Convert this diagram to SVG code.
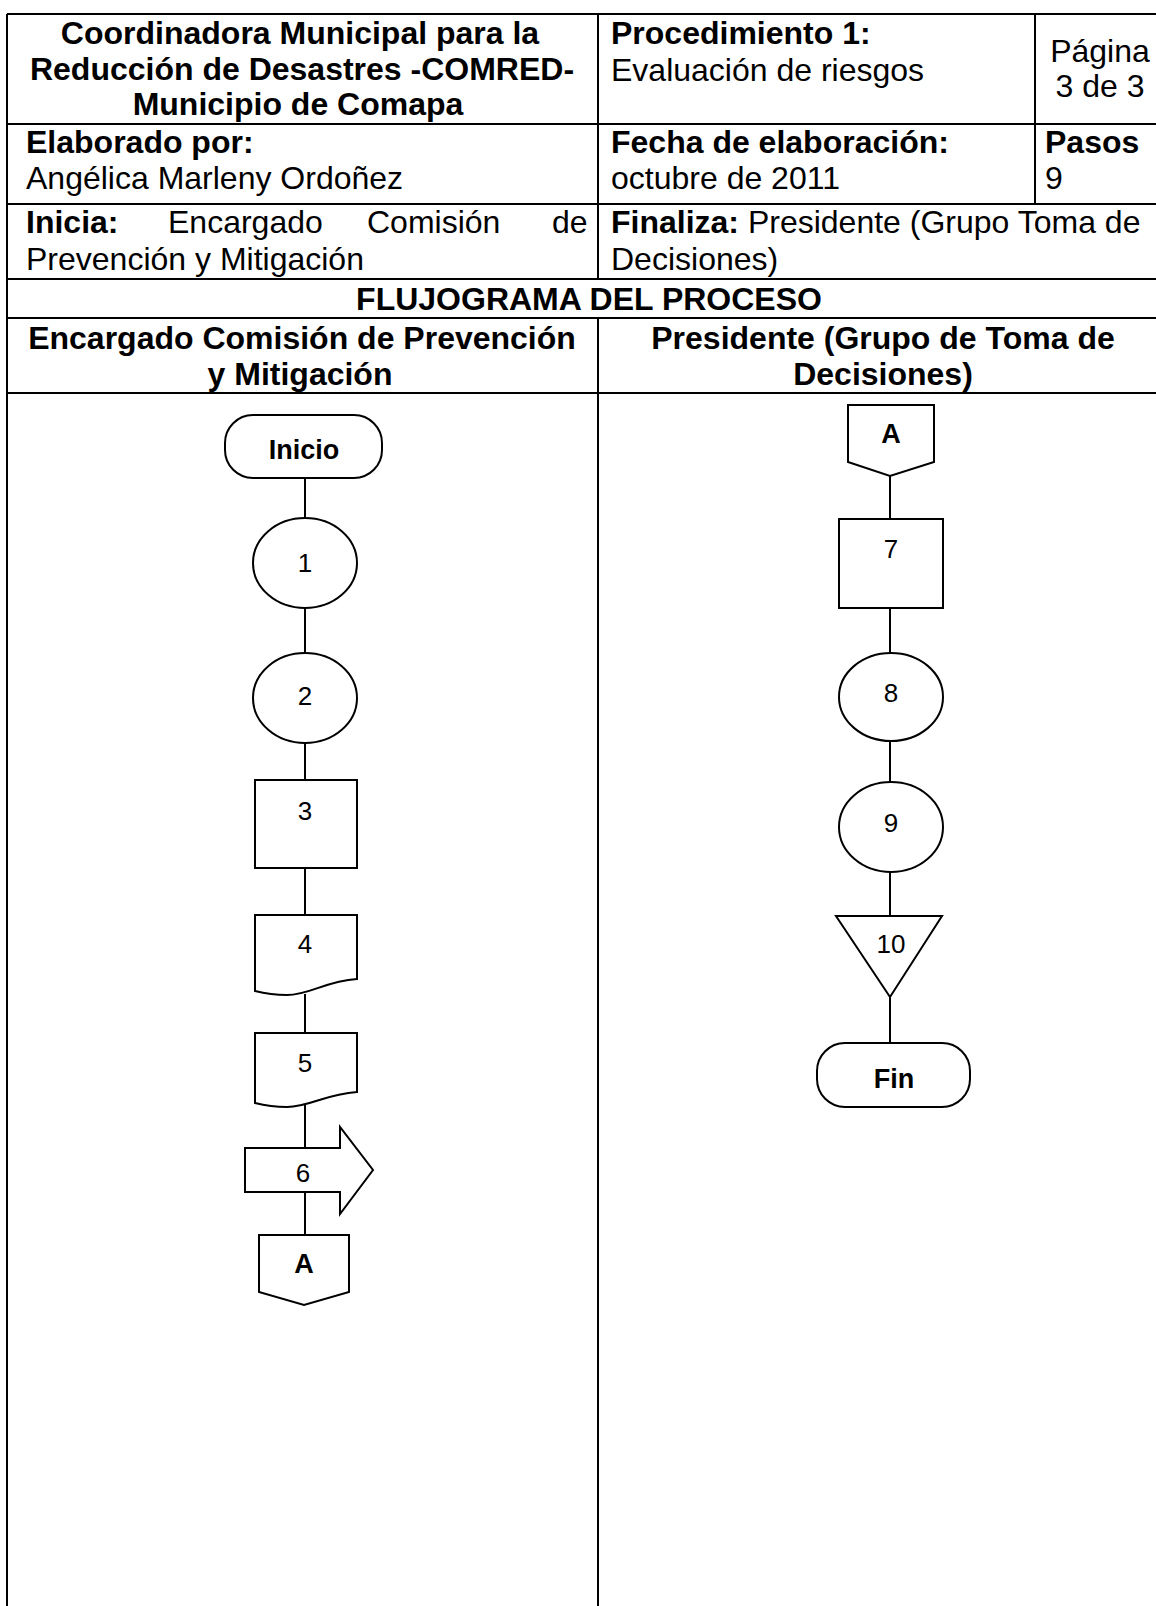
<svg xmlns="http://www.w3.org/2000/svg" width="1156" height="1606" viewBox="0 0 1156 1606">
<style>
.t{font-family:"Liberation Sans",Arial,sans-serif;font-size:32px;fill:#000}
.b{font-weight:bold}
.c{text-anchor:middle}
.grid{stroke:#000;stroke-width:2;fill:none}
.shape{stroke:#000;stroke-width:2;fill:#fff}
.conn{stroke:#000;stroke-width:2;fill:none}
.num{font-family:"Liberation Sans",Arial,sans-serif;font-size:26px;fill:#000;text-anchor:middle}
.lab{font-family:"Liberation Sans",Arial,sans-serif;font-size:27px;font-weight:bold;fill:#000;text-anchor:middle}
</style>
<rect x="0" y="0" width="1156" height="1606" fill="#fff"/>
<g id="table" class="grid">
<line x1="7" y1="14" x2="1156" y2="14"/>
<line x1="7" y1="124" x2="1156" y2="124"/>
<line x1="7" y1="204" x2="1156" y2="204"/>
<line x1="7" y1="279" x2="1156" y2="279"/>
<line x1="7" y1="318" x2="1156" y2="318"/>
<line x1="7" y1="393" x2="1156" y2="393"/>
<line x1="7" y1="14" x2="7" y2="1606"/>
<line x1="598" y1="14" x2="598" y2="279"/>
<line x1="598" y1="318" x2="598" y2="1606"/>
<line x1="1035" y1="14" x2="1035" y2="204"/>
</g>
<g id="header-text">
<text class="t b c" x="300" y="44">Coordinadora Municipal para la</text>
<text class="t b c" x="302" y="80">Reducción de Desastres -COMRED-</text>
<text class="t b c" x="298" y="115">Municipio de Comapa</text>
<text class="t b" x="611" y="44">Procedimiento 1:</text>
<text class="t" x="611" y="81">Evaluación de riesgos</text>
<text class="t c" x="1100" y="62">Página</text>
<text class="t c" x="1100" y="97">3 de 3</text>
<text class="t b" x="26" y="153">Elaborado por:</text>
<text class="t" x="26" y="189">Angélica Marleny Ordoñez</text>
<text class="t b" x="611" y="153">Fecha de elaboración:</text>
<text class="t" x="611" y="189">octubre de 2011</text>
<text class="t b" x="1045" y="153">Pasos</text>
<text class="t" x="1045" y="189">9</text>
<text class="t b" x="26" y="233">Inicia:</text>
<text class="t" x="168" y="233">Encargado</text>
<text class="t" x="367" y="233">Comisión</text>
<text class="t" x="552" y="233">de</text>
<text class="t" x="26" y="270">Prevención y Mitigación</text>
<text class="t" x="611" y="233"><tspan class="b">Finaliza:</tspan> Presidente (Grupo Toma de</text>
<text class="t" x="611" y="270">Decisiones)</text>
<text class="t b c" x="589" y="310">FLUJOGRAMA DEL PROCESO</text>
<text class="t b c" x="302" y="349">Encargado Comisión de Prevención</text>
<text class="t b c" x="300" y="385">y Mitigación</text>
<text class="t b c" x="883" y="349">Presidente (Grupo de Toma de</text>
<text class="t b c" x="883" y="385">Decisiones)</text>
</g>
<g id="connectors" class="conn">
<line x1="305" y1="478" x2="305" y2="518"/>
<line x1="305" y1="608" x2="305" y2="653"/>
<line x1="305" y1="742" x2="305" y2="780"/>
<line x1="305" y1="868" x2="305" y2="915"/>
<line x1="305" y1="994" x2="305" y2="1033"/>
<line x1="305" y1="1105" x2="305" y2="1148"/>
<line x1="305" y1="1192" x2="305" y2="1235"/>
<line x1="890" y1="476" x2="890" y2="519"/>
<line x1="890" y1="608" x2="890" y2="653"/>
<line x1="890" y1="741" x2="890" y2="782"/>
<line x1="890" y1="872" x2="890" y2="916"/>
<line x1="890" y1="997" x2="890" y2="1043"/>
</g>
<g id="inicio">
<rect class="shape" x="225" y="415" width="157" height="63" rx="28" ry="28"/>
<text class="lab" x="304" y="459">Inicio</text>
</g>
<g id="step1">
<ellipse class="shape" cx="305" cy="563" rx="52" ry="45"/>
<text class="num" x="305" y="572">1</text>
</g>
<g id="step2">
<ellipse class="shape" cx="305" cy="698" rx="52" ry="45"/>
<text class="num" x="305" y="705">2</text>
</g>
<g id="step3">
<rect class="shape" x="255" y="780" width="102" height="88"/>
<text class="num" x="305" y="820">3</text>
</g>
<g id="step4">
<path class="shape" d="M255,915 H357 V979 C325,981 310,995 287,995 C272,995 263,993 255,991 Z"/>
<text class="num" x="305" y="953">4</text>
</g>
<g id="step5">
<path class="shape" d="M255,1033 H357 V1092 C325,1094 310,1107 287,1107 C272,1107 263,1105 255,1103 Z"/>
<text class="num" x="305" y="1072">5</text>
</g>
<g id="step6">
<polygon class="shape" points="245,1148 340,1148 340,1127 373,1170 340,1214 340,1192 245,1192"/>
<text class="num" x="303" y="1182">6</text>
</g>
<g id="connectorA-out">
<polygon class="shape" points="259,1235 349,1235 349,1292 304,1305 259,1292"/>
<text class="lab" x="304" y="1273">A</text>
</g>
<g id="connectorA-in">
<polygon class="shape" points="848,405 934,405 934,462 890,476 848,462"/>
<text class="lab" x="891" y="443">A</text>
</g>
<g id="step7">
<rect class="shape" x="839" y="519" width="104" height="89"/>
<text class="num" x="891" y="558">7</text>
</g>
<g id="step8">
<ellipse class="shape" cx="891" cy="697" rx="52" ry="44"/>
<text class="num" x="891" y="702">8</text>
</g>
<g id="step9">
<ellipse class="shape" cx="891" cy="827" rx="52" ry="45"/>
<text class="num" x="891" y="832">9</text>
</g>
<g id="step10">
<polygon class="shape" points="836,916 942,916 890,997"/>
<text class="num" x="891" y="953">10</text>
</g>
<g id="fin">
<rect class="shape" x="817" y="1043" width="153" height="64" rx="28" ry="28"/>
<text class="lab" x="894" y="1088">Fin</text>
</g>
</svg>
